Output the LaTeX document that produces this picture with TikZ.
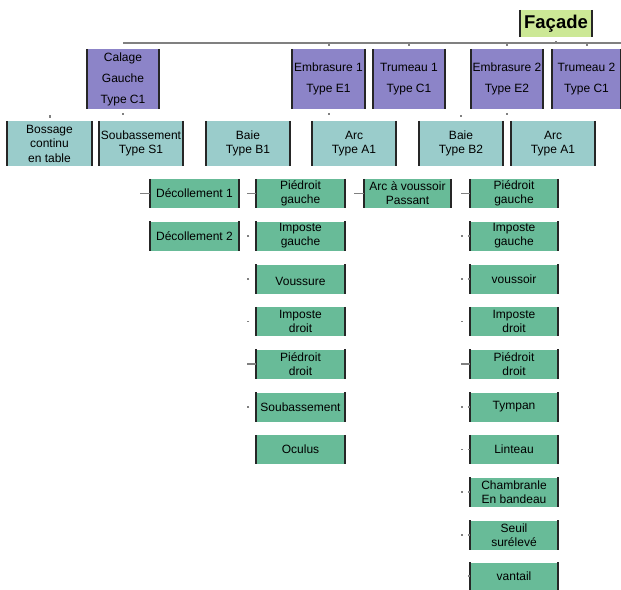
\documentclass[tikz,border=0pt]{standalone}
\usepackage{fontspec}
\setmainfont{Liberation Sans}
\usepackage{tikz}
\definecolor{violetBloc}{RGB}{140,132,200}
\definecolor{turquoiseBloc}{RGB}{154,204,203}
\definecolor{vertBloc}{RGB}{104,187,152}
\definecolor{vertFacade}{RGB}{204,232,150}
\definecolor{grisLien}{RGB}{128,128,128}

\tikzset{
  bords/.style={append after command={
      (\tikzlastnode.north west) edge[line width=2.2pt, black!85] (\tikzlastnode.south west)
      (\tikzlastnode.north east) edge[line width=2.2pt, black!85] (\tikzlastnode.south east)}},
  facade/.style={bords, fill=vertFacade, inner sep=0pt, minimum width=72pt, minimum height=27pt,
      font=\fontsize{18.5}{20}\selectfont\bfseries},
  niveau1/.style={bords, fill=violetBloc, inner sep=0pt, align=center, minimum width=72pt,
      minimum height=60pt, font=\fontsize{12}{21}\selectfont},
  niveau2/.style={bords, fill=turquoiseBloc, inner sep=0pt, align=center, minimum width=84pt,
      minimum height=45pt, font=\fontsize{12}{14.5}\selectfont},
  niveau3/.style={bords, fill=vertBloc, inner sep=0pt, align=center, minimum width=88pt,
      minimum height=29pt, font=\fontsize{12}{14}\selectfont},
  lien/.style={grisLien, line width=1.3pt},
  lienfort/.style={grisLien, line width=2.5pt},
  pointille/.style={grisLien, line width=1.3pt, dash pattern=on 2pt off 5pt on 2pt off 9pt},
  point/.style={grisLien, line width=1.3pt, dash pattern=on 0pt off 7pt on 2pt off 1pt},
  tic/.style={grisLien, line width=2pt}
}

\begin{document}
\begin{tikzpicture}[x=1pt, y=-1pt]
\useasboundingbox (0,0) rectangle (621,589);

% Sommet
\node[facade] (facade) at (556,23.5) {Façade};

% Ligne de rattachement
\coordinate (busG) at (123,43);
\coordinate (busD) at (621,43);
\draw[lienfort, line width=2pt] (busG) -- (busD);

% Niveau 1
\node[niveau1] (calage) at (123,79) {Calage\\Gauche\\Type C1};
\node[niveau1] (emb1) at (328.5,79) {Embrasure 1\\Type E1};
\node[niveau1] (tru1) at (409,79) {Trumeau 1\\Type C1};
\node[niveau1] (emb2) at (507,79) {Embrasure 2\\Type E2};
\node[niveau1, minimum width=69pt] (tru2) at (586.5,79) {Trumeau 2\\Type C1};

\draw[tic] (emb1.north |- busG) -- ++(0,3);
\draw[tic] (tru1.north |- busG) -- ++(0,3);
\draw[tic] (emb2.north |- busG) -- ++(0,3);
\draw[tic] (tru2.north |- busG) -- ++(0,3);
\draw[tic] (facade.south |- busG) -- ++(0,-2);

% Niveau 2
\node[niveau2] (bossage) at (49.5,143.5) {Bossage\\continu\\en table};
\node[niveau2] (soub) at (141,143.5) {Soubassement\\Type S1};
\node[niveau2] (baieB1) at (248,143.5) {Baie\\Type B1};
\node[niveau2] (arcA1) at (354,143.5) {Arc\\Type A1};
\node[niveau2] (baieB2) at (461,143.5) {Baie\\Type B2};
\node[niveau2] (arcA1b) at (553,143.5) {Arc\\Type A1};

\draw[tic] ([yshift=3pt]bossage.north) -- ++(0,-3);
\draw[tic] ([yshift=-4pt]calage.south) -- ++(0,2);
\draw[tic] ([yshift=-4pt]emb1.south) -- ++(0,2);
\draw[tic] ([yshift=4pt]baieB2.north) -- ++(0,-2);
\draw[tic] ([yshift=-4pt]emb2.south) -- ++(0,2);

% Niveau 3 : soubassement
\node[niveau3] (decol1) at (194.5,193.5) {Décollement 1};
\node[niveau3] (decol2) at (194.5,236) {Décollement 2};

% Niveau 3 : baie B1
\node[niveau3] (piedG) at (300.5,193.5) {Piédroit\\gauche};
\node[niveau3] (impG) at (300.5,236) {Imposte\\gauche};
\node[niveau3] (vouss) at (300.5,279) {\mbox{}\\Voussure};
\node[niveau3] (impD) at (300.5,321.5) {Imposte\\droit};
\node[niveau3] (piedD) at (300.5,364) {Piédroit\\droit};
\node[niveau3] (soubB) at (300.5,407) {Soubassement};
\node[niveau3] (oculus) at (300.5,449.5) {Oculus};

% Niveau 3 : arc A1
\node[niveau3, minimum width=87pt] (arcVP) at (407.5,193.5) {Arc à voussoir\\Passant};

% Niveau 3 : baie B2
\node[niveau3] (piedG2) at (514,193.5) {Piédroit\\gauche};
\node[niveau3] (impG2) at (514,236) {Imposte\\gauche};
\node[niveau3] (vouss2) at (514,279) {voussoir};
\node[niveau3] (impD2) at (514,321.5) {Imposte\\droit};
\node[niveau3] (piedD2) at (514,364) {Piédroit\\droit};
\node[niveau3] (tympan) at (514,407) {Tympan};
\node[niveau3] (linteau) at (514,449.5) {Linteau};
\node[niveau3] (chamb) at (514,492) {Chambranle\\En bandeau};
\node[niveau3] (seuil) at (514,535) {Seuil\\surélevé};
\node[niveau3, minimum height=27pt] (vantail) at (514,576) {vantail};

% Amorces des liens
\draw[lien] (decol1.west) -- ++(-10,0);
\draw[lien] (piedG.west) -- ++(-9,0);
\draw[point] (impG.west) -- ++(-9,0);
\draw[point] (vouss.west) -- ++(-9,0);
\draw[point] (impD.west) -- ++(-9,0);
\draw[lienfort] (piedD.west) -- ++(-9,0);
\draw[point] (soubB.west) -- ++(-9,0);
\draw[lien] (arcVP.west) -- ++(-10,0);
\draw[lien] (piedG2.west) -- ++(-9,0);
\draw[pointille] (impG2.west) -- ++(-9,0);
\draw[pointille] (vouss2.west) -- ++(-9,0);
\draw[point] (impD2.west) -- ++(-9,0);
\draw[lienfort] (piedD2.west) -- ++(-9,0);
\draw[pointille] (tympan.west) -- ++(-9,0);
\draw[pointille] (linteau.west) -- ++(-9,0);
\draw[pointille] (chamb.west) -- ++(-9,0);
\draw[pointille] (seuil.west) -- ++(-9,0);
\draw[lien, dash pattern=on 2pt off 9pt] (vantail.west) -- ++(-9,0);

\end{tikzpicture}
\end{document}
